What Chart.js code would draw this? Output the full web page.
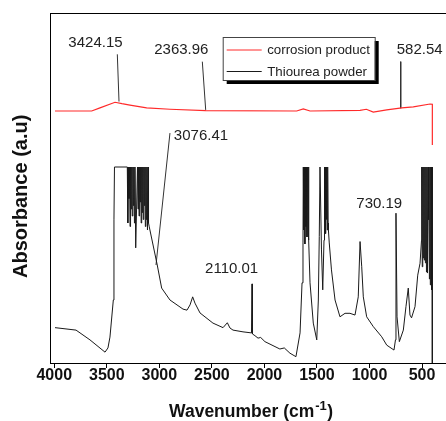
<!DOCTYPE html>
<html>
<head>
<meta charset="utf-8">
<script src="https://cdn.jsdelivr.net/npm/chart.js@4"></script>
<style>
  html, body { margin: 0; padding: 0; background: #fff; }
  #wrap { width: 446px; height: 421px; }
</style>
</head>
<body>
<div id="wrap"><canvas id="myChart"></canvas></div>
<script>
// Thiourea powder spectrum (wavenumber cm-1, absorbance a.u.)
const thioureaWn = [3993, 3793, 3660, 3517, 3489, 3470, 3438, 3432, 3427,
  3305, 3300, 3294, 3289, 3284, 3279, 3274, 3268, 3263, 3258, 3252, 3247, 3242, 3237, 3232, 3225,
  3208, 3203, 3198, 3193, 3188, 3183, 3178, 3173, 3168, 3163, 3158, 3153, 3148, 3143, 3138, 3133, 3128, 3123, 3118, 3113, 3108, 3103, 3096,
  3020, 2978, 2899, 2775, 2737, 2708, 2683, 2661, 2613, 2490, 2394, 2353, 2328, 2299, 2204, 2123, 2118, 2114,
  2090, 2061, 2036, 1995, 1853, 1811, 1757, 1700, 1661, 1642, 1633,
  1630, 1625, 1620, 1615, 1610, 1605, 1600, 1595, 1590, 1585, 1580, 1578,
  1566, 1535, 1502, 1487, 1478, 1471, 1468, 1457, 1445, 1433,
  1430, 1426, 1422, 1418, 1414, 1410, 1406, 1402, 1398, 1394, 1391,
  1383, 1362, 1328, 1281, 1233, 1186, 1138, 1107, 1090, 1074, 1059, 1027, 964, 884, 836, 767, 753, 748, 738, 716,
  678, 653, 631, 615, 600, 567, 541, 519, 505,
  503, 498, 493, 488, 483, 478, 473, 468, 463, 458, 453, 448, 443, 439, 435, 430, 426, 421, 417, 414, 410, 407, 404, 402, 402, 402];
const thioureaAbs = [10.1, 9.4, 6.6, 3.1, 4.3, 7.4, 18, 40.9, 56,
  56, 40, 56, 47, 56, 39, 56, 44, 56, 42, 56, 45, 56, 40, 56, 32.9,
  56, 44, 56, 42, 56, 46, 56, 40, 56, 43, 56, 41, 56, 45, 56, 39, 56, 41, 56, 38, 56, 40, 38.9,
  28, 21.4, 18, 15.4, 15.1, 16.6, 18.9, 17.1, 14.3, 11.4, 10.1, 11.5, 10, 9.4, 8.9, 8.6, 22.6, 8.3,
  7.8, 7.1, 7.3, 6.1, 4, 4.3, 2.8, 1.8, 8.6, 22.9, 34.3,
  56, 38, 56, 34, 56, 39, 56, 36, 56, 38, 56, 35.1,
  22.9, 11.4, 6.6, 18, 36.1, 56, 56, 32.3, 20.9, 35.1,
  56, 40.3, 56, 37, 56, 41, 56, 38, 56, 40, 38,
  34.3, 26.6, 18, 13.2, 14.2, 14.2, 13.7, 18.9, 34.7, 27.5, 18.9, 13.2, 10.4, 7.5, 5.1, 3.7, 6.6, 42.8, 13.2, 6.1,
  9.4, 16.1, 21.4, 13.7, 12.9, 16.1, 25.1, 28.5, 35.1,
  56, 27.5, 56, 30, 56, 29.4, 56, 28.6, 56, 26, 56, 25.7, 56, 40.9, 56, 24, 56, 22.3, 56, 40.3, 56, 20.9, 56, 29.4, 56, 0];

// Corrosion product spectrum
const corrosionWn = [3993, 3644, 3565, 3422, 3356, 3280, 3121, 2899, 2559, 1693, 1630, 1566,
  1090, 1030, 964, 836, 693, 583, 424, 402, 402];
const corrosionAbs = [72, 72, 72.9, 74.5, 74.1, 73.7, 72.9, 72.5, 72.1, 72, 72.6, 72,
  72.2, 72.5, 71.7, 72.3, 72.9, 73.2, 74, 73.9, 62.3];

// Peak annotations
const peakLabels = ["3424.15", "2363.96", "582.54", "3076.41", "2110.01", "730.19"];
const peakLabelWn = [3608, 2791, 741, 2604, 2312, 907];
const peakLabelAbs = [91.4, 89.6, 89.4, 64.9, 26.9, 45.6];
// leader lines: [wn start, abs start, wn end, abs end]
const leaderLines = [
  [3400, 88.2, 3384, 74.7],
  [2591, 86.1, 2559, 72.3],
  [703, 86.1, 703, 72.8],
  [2899, 65.7, 3032, 28]
];

const xTicks = [4000, 3500, 3000, 2500, 2000, 1500, 1000, 500];

const FONT = "'Liberation Sans', Arial, sans-serif";

const datasets = [
  {
    label: "corrosion product",
    data: corrosionWn.map((w, i) => ({ x: w, y: corrosionAbs[i] })),
    borderColor: "#ff2a2a",
    borderWidth: 1.2
  },
  {
    label: "Thiourea powder",
    data: thioureaWn.map((w, i) => ({ x: w, y: thioureaAbs[i] })),
    borderColor: "#1a1a1a",
    borderWidth: 1
  }
];
leaderLines.forEach(l => {
  datasets.push({
    label: "",
    data: [{ x: l[0], y: l[1] }, { x: l[2], y: l[3] }],
    borderColor: "#333",
    borderWidth: 1
  });
});

// peak labels, legend, top frame line and x axis title
const decorPlugin = {
  id: "decor",
  afterDraw(chart) {
    const ctx = chart.ctx;
    const xs = chart.scales.x, ys = chart.scales.y;
    const area = chart.chartArea;
    ctx.save();

    // top frame line
    ctx.strokeStyle = "#000";
    ctx.lineWidth = 1;
    ctx.beginPath();
    ctx.moveTo(area.left, area.top + 0.5);
    ctx.lineTo(area.right, area.top + 0.5);
    ctx.stroke();

    // peak labels
    ctx.fillStyle = "#222";
    ctx.font = "15px " + FONT;
    ctx.textBaseline = "middle";
    peakLabels.forEach((t, i) => {
      ctx.textAlign = t === "582.54" ? "left" : "center";
      ctx.fillText(t, xs.getPixelForValue(peakLabelWn[i]), ys.getPixelForValue(peakLabelAbs[i]));
    });

    // legend box with shadow
    const bx = area.left + 172, by = area.top + 24, bw = 152, bh = 43;
    ctx.fillStyle = "#000";
    ctx.fillRect(bx + 4, by + 4, bw, bh);
    ctx.fillStyle = "#fff";
    ctx.fillRect(bx, by, bw, bh);
    ctx.strokeStyle = "#444";
    ctx.strokeRect(bx + 0.5, by + 0.5, bw, bh);
    ctx.font = "13.3px " + FONT;
    ctx.textAlign = "left";
    [0, 1].forEach(i => {
      const ds = chart.data.datasets[i];
      const ly = by + 12.5 + i * 21.5;
      ctx.strokeStyle = ds.borderColor;
      ctx.lineWidth = 1;
      ctx.beginPath();
      ctx.moveTo(bx + 4, ly + 0.5);
      ctx.lineTo(bx + 39, ly + 0.5);
      ctx.stroke();
      ctx.fillStyle = "#222";
      ctx.fillText(ds.label, bx + 44.5, ly + 1);
    });

    // x axis title with superscript
    ctx.fillStyle = "#111";
    ctx.textBaseline = "alphabetic";
    const main = "Wavenumber (cm", sup = "-1", end = ")";
    ctx.font = "bold 17.5px " + FONT;
    const w1 = ctx.measureText(main).width, w3 = ctx.measureText(end).width;
    ctx.font = "bold 13px " + FONT;
    const w2 = ctx.measureText(sup).width;
    let tx = (area.left + area.right) / 2 + 2 - (w1 + w2 + w3) / 2;
    const base = 417;
    ctx.font = "bold 17.5px " + FONT;
    ctx.fillText(main, tx, base);
    ctx.font = "bold 13px " + FONT;
    ctx.fillText(sup, tx + w1 + 1, base - 7);
    ctx.font = "bold 17.5px " + FONT;
    ctx.fillText(end, tx + w1 + w2 + 1.5, base);
    ctx.restore();
  }
};

new Chart(document.getElementById("myChart"), {
  type: "line",
  data: { datasets: datasets },
  plugins: [decorPlugin],
  options: {
    responsive: true,
    maintainAspectRatio: false,
    animation: false,
    events: [],
    layout: { padding: { left: 0, top: 13, right: 0, bottom: 38 } },
    elements: { point: { radius: 0 }, line: { tension: 0 } },
    plugins: { legend: { display: false }, tooltip: { enabled: false } },
    scales: {
      x: {
        type: "linear",
        reverse: true,
        min: 272,
        max: 4034,
        afterBuildTicks: (axis) => { axis.ticks = xTicks.map(v => ({ value: v })); },
        ticks: {
          color: "#111",
          padding: -0.5,
          maxRotation: 0,
          autoSkip: false,
          callback: (v) => String(v),
          font: { family: FONT, size: 16, weight: "bold", lineHeight: 1 }
        },
        grid: { drawOnChartArea: false, drawTicks: true, tickLength: 5, color: "#000" },
        border: { display: true, color: "#000", width: 1 }
      },
      y: {
        min: 0,
        max: 100,
        ticks: { display: false },
        grid: { display: false, drawTicks: false },
        border: { display: true, color: "#000", width: 1 },
        title: {
          display: true,
          text: "Absorbance (a.u)   ",
          color: "#111",
          font: { family: FONT, size: 20, weight: "bold" },
          padding: { top: 9, bottom: 17.7 }
        }
      }
    }
  }
});
</script>
</body>
</html>
